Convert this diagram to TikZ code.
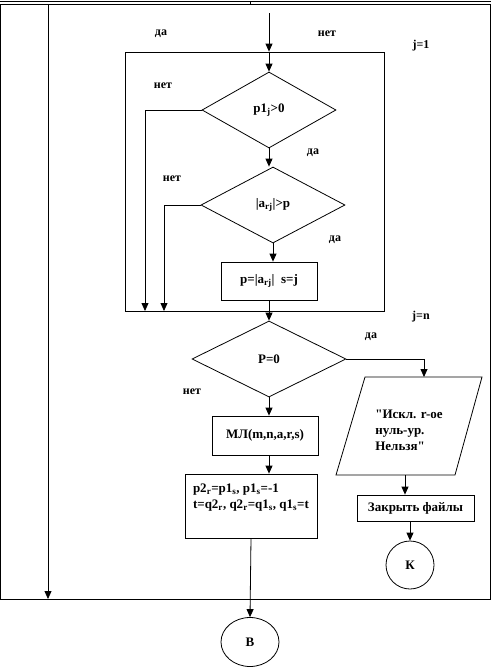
\documentclass[tikz,border=0pt]{standalone}
\usepackage{fontspec}
\setmainfont{Liberation Serif}
\usetikzlibrary{shapes.geometric,arrows.meta}
\begin{document}
\begin{tikzpicture}[x=1pt, y=-1pt, line width=0.8pt,
      font=\bfseries\fontsize{13}{16}\selectfont,
      block/.style={rectangle, draw, inner sep=2pt},
      cond/.style={diamond, draw, inner sep=0pt, aspect=1.8},
      lbl/.style={font=\bfseries\fontsize{12}{14}\selectfont},
      arr/.style={-{Triangle[length=8pt,width=7pt]}}]
      \useasboundingbox (0,0) rectangle (491,667);
      \draw (0,1) -- (491,1);
      \draw (250,1) -- (250,4);
      \node[draw, minimum width=490pt, minimum height=595pt] (frame) at (245,301.5) {};
      \node[draw, minimum width=259pt, minimum height=259pt] (loop) at (254.5,181.5) {};
      \node[cond, minimum width=134pt, minimum height=76pt] (d1) at (269,110) {p1\textsubscript{j}>0};
      \node[cond, minimum width=144pt, minimum height=76pt] (d2) at (273,205) {|a\textsubscript{rj}|>p};
      \node[block, minimum width=96pt, minimum height=38pt] (b1) at (269,281) {p=|a\textsubscript{rj}|\ \ s=j};
      \node[cond, minimum width=154pt, minimum height=76pt] (d3) at (269,359) {P=0};
      \node[block, minimum width=106pt, minimum height=39pt] (ml) at (265,435.5) {МЛ(m,n,a,r,s)};
      \node[block, minimum width=132pt, minimum height=64pt, align=left] (swap) at (251,506)
         {p2\textsubscript{r}=p1\textsubscript{s}, p1\textsubscript{s}=-1\\t=q2\textsubscript{r}, q2\textsubscript{r}=q1\textsubscript{s}, q1\textsubscript{s}=t\\[4pt]};
      % parallelogram for the message
      \coordinate (m1) at (365,377);
      \coordinate (m2) at (482,377);
      \coordinate (m3) at (455,475);
      \coordinate (m4) at (336,475);
      \draw (m1) -- (m2) -- (m3) -- (m4) -- cycle;
      \node[align=left] (msg) at (409,430) {\textquotedbl Искл. r-ое\\нуль-ур.\\Нельзя\textquotedbl};
      \coordinate (mtop) at (424,377);
      \coordinate (mbot) at (405,475);
      \node[block, minimum width=117pt, minimum height=26pt] (close) at (415.5,508) {Закрыть файлы};
      \node[circle, draw, minimum size=48pt, inner sep=0pt] (K) at (410,565) {К};
      \node[ellipse, draw, minimum width=58pt, minimum height=49pt, inner sep=0pt] (B) at (250,642) {В};
      \node[lbl] (l1) at (161,34) {да};
      \node[lbl] (l2) at (327,34) {нет};
      \node[lbl] (l3) at (421,46) {j=1};
      \node[lbl] (l4) at (163,86) {нет};
      \node[lbl] (l5) at (313,153) {да};
      \node[lbl] (l6) at (172,179) {нет};
      \node[lbl] (l7) at (335,240) {да};
      \node[lbl] (l8) at (421,317) {j=n};
      \node[lbl] (l9) at (371,337) {да};
      \node[lbl] (l10) at (192,392) {нет};
      \coordinate (entry) at (269,13);
      \coordinate (j1) at (145,311);
      \coordinate (j2) at (164,311);
      \coordinate (lin) at (48,4);
      \coordinate (lout) at (48,599);
      \draw[arr] (lin) -- (lout);
      \draw[arr] (entry) -- (entry |- loop.north);
      \draw[arr] (entry |- loop.north) -- (d1.north);
      \draw[arr] (d1.west) -| (j1);
      \draw[arr] (d1.south) -- (d1.south |- d2.north);
      \draw[arr] (d2.west) -| (j2);
      \draw[arr] (d2.south) -- (d2.south |- b1.north);
      \draw[arr] (b1.south) -- (d3.north);
      \draw[arr] (d3.east) -| (mtop);
      \draw[arr] (d3.south) -- (d3.south |- ml.north);
      \draw[arr] (d3.south |- ml.south) -- (d3.south |- swap.north);
      \draw[arr] (swap.south) -- (B.north);
      \draw[arr] (mbot) -- (mbot |- close.north);
      \draw[arr] (close.south -| K.north) -- (K.north);
   \end{tikzpicture}
\end{document}
